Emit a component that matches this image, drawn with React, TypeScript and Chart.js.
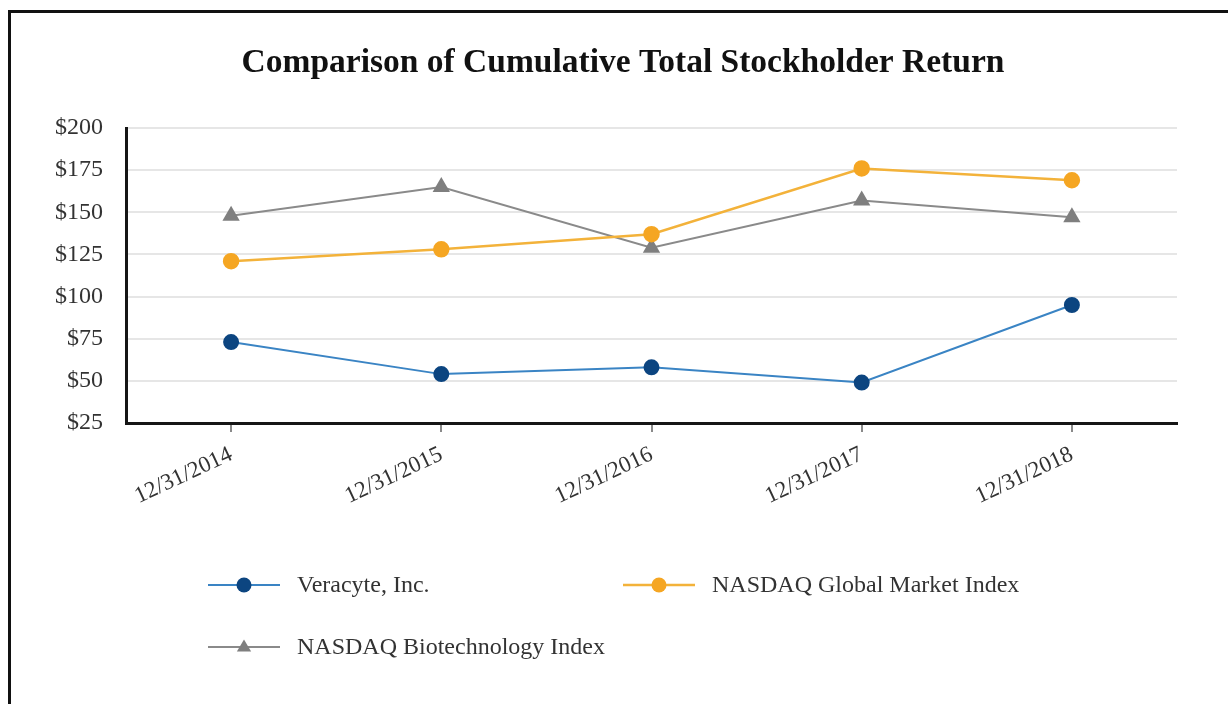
import React, { useEffect, useRef } from "react";
import { Chart, registerables } from "chart.js";

Chart.register(...registerables);

const TITLE = "Comparison of Cumulative Total Stockholder Return";
const categories = ["12/31/2014", "12/31/2015", "12/31/2016", "12/31/2017", "12/31/2018"];
const veracyte = [73, 54, 58, 49, 95];
const nasdaqGlobal = [121, 128, 137, 176, 169];
const nasdaqBiotech = [148, 165, 129, 157, 147];
const yTicks = [25, 50, 75, 100, 125, 150, 175, 200];

const SERIF = "'Liberation Serif', 'Times New Roman', serif";

const titlePlugin = {
  id: "customTitle",
  afterDraw(chart: any) {
    const ctx = chart.ctx as CanvasRenderingContext2D;
    ctx.save();
    ctx.fillStyle = "#111";
    ctx.font = `bold 33.5px ${SERIF}`;
    ctx.textAlign = "center";
    ctx.textBaseline = "middle";
    ctx.fillText(TITLE, 612, 50);
    ctx.restore();
  },
};

const legendPlugin = {
  id: "customLegend",
  afterDraw(chart: any) {
    const ctx = chart.ctx as CanvasRenderingContext2D;
    const slots = [
      { x: 197, y: 572 },
      { x: 612, y: 572 },
      { x: 197, y: 634 },
    ];
    chart.data.datasets.forEach((ds: any, i: number) => {
      const s = slots[i];
      if (!s) return;
      ctx.save();
      ctx.strokeStyle = ds.borderColor;
      ctx.lineWidth = ds.borderWidth;
      ctx.beginPath();
      ctx.moveTo(s.x, s.y);
      ctx.lineTo(s.x + 72, s.y);
      ctx.stroke();
      ctx.fillStyle = ds.pointBackgroundColor;
      const cx = s.x + 36;
      if (ds.pointStyle === "triangle") {
        const r = 7.5;
        ctx.beginPath();
        ctx.moveTo(cx, s.y - r);
        ctx.lineTo(cx + r * 0.95, s.y + r * 0.6);
        ctx.lineTo(cx - r * 0.95, s.y + r * 0.6);
        ctx.closePath();
        ctx.fill();
      } else {
        ctx.beginPath();
        ctx.arc(cx, s.y, 7.5, 0, Math.PI * 2);
        ctx.fill();
      }
      ctx.fillStyle = "#333";
      ctx.font = `24px ${SERIF}`;
      ctx.textBaseline = "middle";
      ctx.textAlign = "left";
      ctx.fillText(ds.label, s.x + 89, s.y + 1);
      ctx.restore();
    });
  },
};

export default function App() {
  const ref = useRef<HTMLCanvasElement | null>(null);
  useEffect(() => {
    if (!ref.current) return;
    const chart = new Chart(ref.current, {
      type: "line",
      data: {
        labels: categories,
        datasets: [
          {
            label: "Veracyte, Inc.",
            data: veracyte,
            borderColor: "#3a84c4",
            borderWidth: 2,
            pointBackgroundColor: "#0c4580",
            pointBorderColor: "#0c4580",
            pointRadius: 7,
            pointStyle: "circle",
            tension: 0,
          },
          {
            label: "NASDAQ Global Market Index",
            data: nasdaqGlobal,
            borderColor: "#f3b23a",
            borderWidth: 2.5,
            pointBackgroundColor: "#f5a623",
            pointBorderColor: "#f5a623",
            pointRadius: 7,
            pointStyle: "circle",
            tension: 0,
          },
          {
            label: "NASDAQ Biotechnology Index",
            data: nasdaqBiotech,
            borderColor: "#8a8a8a",
            borderWidth: 2,
            pointBackgroundColor: "#7f7f7f",
            pointBorderColor: "#7f7f7f",
            pointRadius: 8,
            pointStyle: "triangle",
            tension: 0,
          },
        ],
      },
      options: {
        responsive: false,
        animation: false,
        devicePixelRatio: 1,
        layout: { padding: { left: 0, right: 51, top: 115, bottom: 181 } },
        plugins: {
          legend: { display: false },
          tooltip: { enabled: false },
          title: { display: false },
        },
        scales: {
          x: {
            type: "category",
            offset: true,
            afterFit: (scale: any) => {
              scale.height = 100;
            },
            grid: {
              display: true,
              drawOnChartArea: false,
              drawTicks: true,
              tickLength: 9,
              color: "#8a8a8a",
              lineWidth: 2,
              offset: false,
            },
            border: { display: true, color: "#151515", width: 3 },
            ticks: {
              color: "#333",
              font: { family: SERIF, size: 23 },
              minRotation: 25,
              maxRotation: 25,
              padding: 9,
              autoSkip: false,
            },
          },
          y: {
            min: 25,
            max: 200,
            afterFit: (scale: any) => {
              scale.width = 115;
            },
            afterBuildTicks: (scale: any) => {
              scale.ticks = yTicks.map((v) => ({ value: v }));
            },
            grid: {
              display: true,
              drawTicks: false,
              color: "#e6e6e6",
              lineWidth: 2,
            },
            border: { display: true, color: "#151515", width: 3 },
            ticks: {
              color: "#333",
              font: { family: SERIF, size: 24 },
              padding: 23,
              callback: (v: any) => "$" + v,
            },
          },
        },
      },
      plugins: [titlePlugin, legendPlugin],
    });
    return () => chart.destroy();
  }, []);

  return (
    <div
      style={{
        position: "fixed",
        left: 8,
        top: 10,
        right: 0,
        bottom: 0,
        borderTop: "3px solid #111",
        borderLeft: "3px solid #111",
        background: "#fff",
        overflow: "hidden",
      }}
    >
      <canvas ref={ref} width={1217} height={691} style={{ display: "block", width: 1217, height: 691 }} />
    </div>
  );
}
